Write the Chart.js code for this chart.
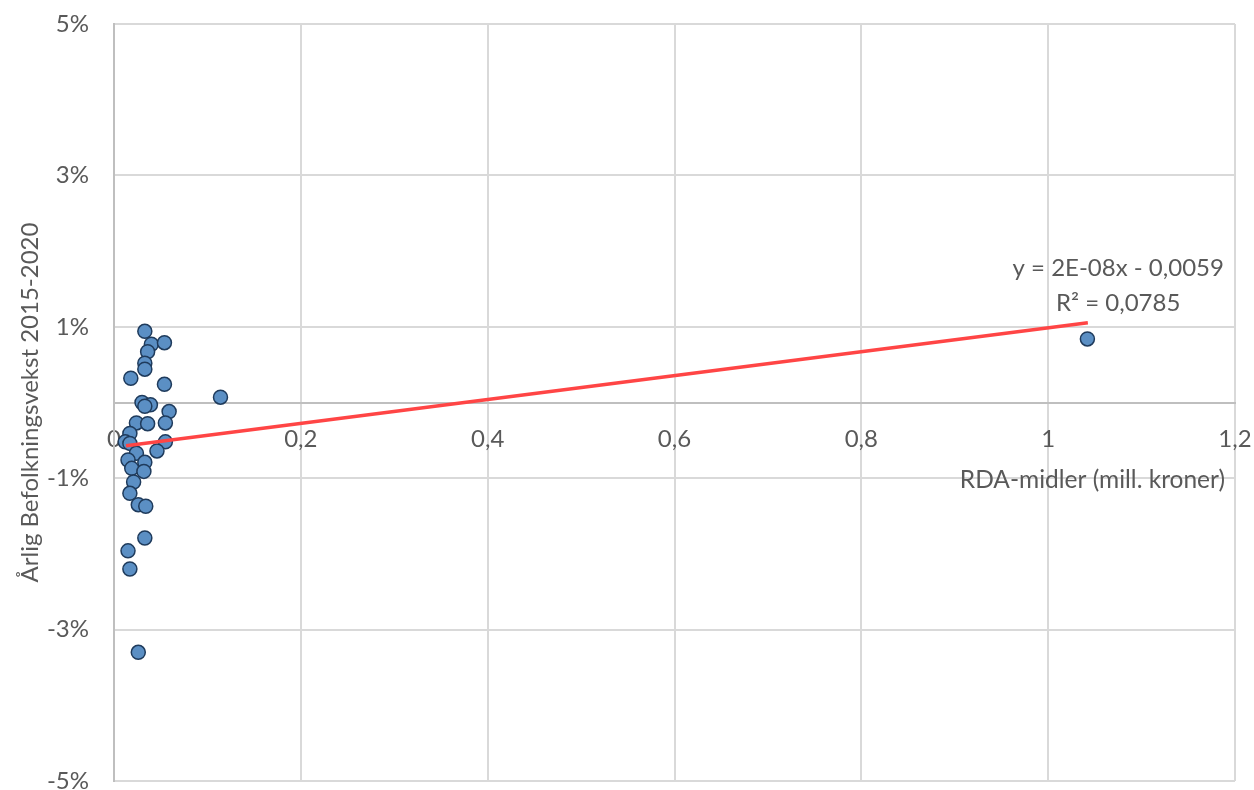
<!DOCTYPE html>
<html>
<head>
<meta charset="utf-8">
<script src="https://cdn.jsdelivr.net/npm/chart.js@4"></script>
<style>
html,body{margin:0;padding:0;background:#ffffff;}
#wrap{width:1254px;height:790px;position:relative;}
</style>
</head>
<body>
<div id="wrap"><canvas id="c" width="1254" height="790"></canvas></div>
<script>
// RDA-midler (mill. kroner)
const rdaMillions = [
  0.033, 0.040, 0.054, 0.036, 0.033, 0.033, 0.018, 0.054, 0.114, 0.030,
  0.039, 0.033, 0.059, 0.024, 0.055, 0.036, 0.017, 0.012, 0.055, 0.017,
  0.046, 0.024, 0.015, 0.033, 0.019, 0.032, 0.021, 0.017, 0.026, 0.034,
  0.033, 0.015, 0.017, 0.026, 1.042
];
// Årlig befolkningsvekst 2015-2020 (fraction)
const popGrowth = [
  0.0094, 0.0077, 0.0079, 0.0067, 0.0052, 0.0044, 0.0032, 0.0024, 0.0007, 0.0000,
  -0.0003, -0.0005, -0.0012, -0.0027, -0.0027, -0.0028, -0.0041, -0.0052, -0.0052, -0.0054,
  -0.0064, -0.0067, -0.0076, -0.0079, -0.0087, -0.0091, -0.0105, -0.0120, -0.0135, -0.0137,
  -0.0179, -0.0196, -0.0220, -0.0330, 0.0084
];
// Trend line end points
const trendX = [0.0129, 1.0425];
const trendY = [-0.0057, 0.01054];
const trendLabel = ['y = 2E-08x - 0,0059', 'R\u00B2 = 0,0785'];

const xTicks = [0, 0.2, 0.4, 0.6, 0.8, 1, 1.2];
const yTicks = [-0.05, -0.03, -0.01, 0.01, 0.03, 0.05];
const xTitle = 'RDA-midler (mill. kroner)';
const yTitle = '\u00C5rlig Befolkningsvekst 2015-2020';

const FONT = 'Lato, "Open Sans", "DejaVu Sans", sans-serif';
const FS = 24;
const TXT = '#595959';

const scatterPts = rdaMillions.map((x, i) => ({x: x, y: popGrowth[i]}));
const trendPts = trendX.map((x, i) => ({x: x, y: trendY[i]}));

const zeroPad = s => { s.paddingTop = 0; s.paddingBottom = 0; s.paddingLeft = 0; s.paddingRight = 0; };

const textPlugin = {
  id: 'extraText',
  afterDraw(chart) {
    const ctx = chart.ctx;
    const xs = chart.scales.x, ys = chart.scales.y;
    ctx.save();
    ctx.fillStyle = TXT;
    ctx.textBaseline = 'middle';
    // x axis title
    ctx.font = (FS + 0.5) + 'px ' + FONT;
    ctx.textAlign = 'right';
    ctx.fillText(xTitle, chart.chartArea.right - 10, ys.getPixelForValue(-0.0103));
    // trend label
    ctx.font = FS + 'px ' + FONT;
    ctx.textAlign = 'center';
    const cx = xs.getPixelForValue(1.075);
    ctx.fillText(trendLabel[0], cx, ys.getPixelForValue(0.0177));
    ctx.fillText(trendLabel[1], cx, ys.getPixelForValue(0.0131));
    ctx.restore();
  }
};

new Chart(document.getElementById('c'), {
  type: 'scatter',
  data: {
    datasets: [
      {
        type: 'line',
        label: 'Trend',
        data: trendPts,
        borderColor: '#FF4545',
        borderWidth: 3.5,
        pointRadius: 0,
        fill: false,
        order: 0
      },
      {
        label: 'Kommuner',
        data: scatterPts,
        backgroundColor: '#5B8FC4',
        borderColor: '#1F3B5C',
        borderWidth: 1.5,
        pointRadius: 7,
        pointHoverRadius: 7,
        order: 1
      }
    ]
  },
  options: {
    responsive: false,
    animation: false,
    devicePixelRatio: 1,
    layout: {padding: {top: 24, right: 19, bottom: 9, left: 0}},
    plugins: {legend: {display: false}, tooltip: {enabled: false}},
    scales: {
      x: {
        type: 'linear',
        position: {y: 0},
        min: 0, max: 1.2,
        afterBuildTicks: s => { s.ticks = xTicks.map(v => ({value: v})); },
        afterFit: zeroPad,
        grid: {color: '#D9D9D9', lineWidth: 2, drawTicks: false},
        border: {display: true, color: '#BFBFBF', width: 2},
        ticks: {
          color: TXT,
          font: {family: FONT, size: FS},
          padding: 22,
          maxRotation: 0,
          autoSkip: false,
          callback: v => (Math.round(v * 10) / 10).toString().replace('.', ',')
        }
      },
      y: {
        type: 'linear',
        position: 'left',
        min: -0.05, max: 0.05,
        afterBuildTicks: s => { s.ticks = yTicks.map(v => ({value: v})); },
        afterFit: s => { zeroPad(s); s.width = 114; },
        grid: {color: '#D9D9D9', lineWidth: 2, drawTicks: false},
        border: {display: true, color: '#BFBFBF', width: 2},
        ticks: {
          color: TXT,
          font: {family: FONT, size: FS},
          padding: 25,
          autoSkip: false,
          callback: v => Math.round(v * 100) + '%'
        },
        title: {
          display: true,
          text: yTitle,
          color: TXT,
          font: {family: FONT, size: FS},
          padding: {top: 16, bottom: 0}
        }
      }
    }
  },
  plugins: [textPlugin]
});
</script>
</body>
</html>
